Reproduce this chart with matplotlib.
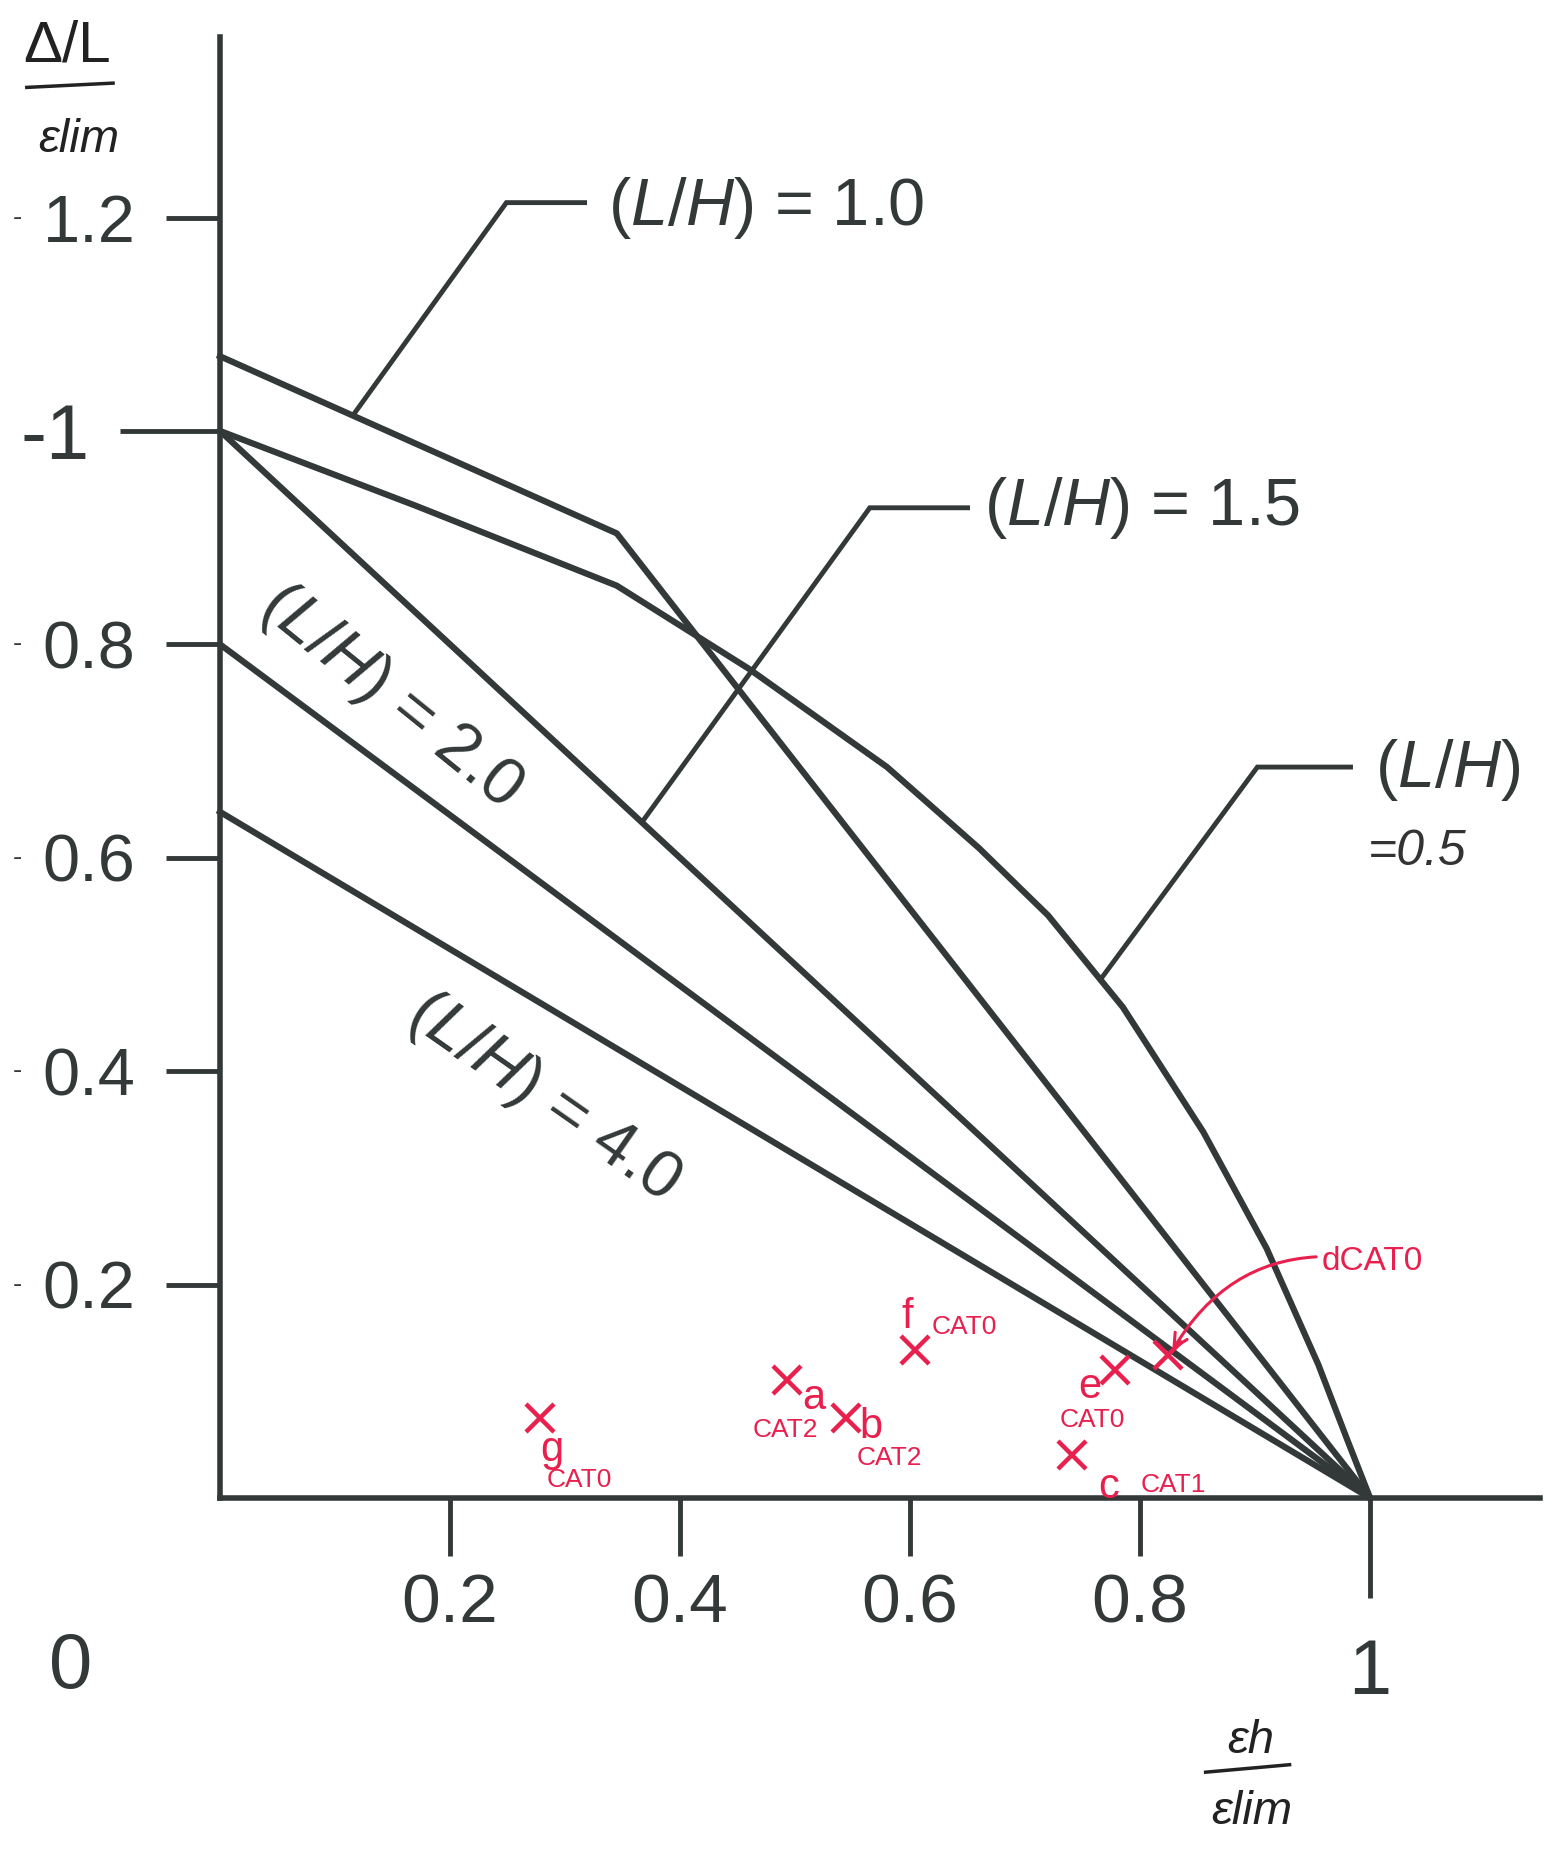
import matplotlib
matplotlib.use('Agg')
import matplotlib.pyplot as plt

plt.rcParams['font.family'] = ['Liberation Sans', 'DejaVu Sans']
plt.rcParams['mathtext.fontset'] = 'custom'
plt.rcParams['mathtext.rm'] = 'Liberation Sans'
plt.rcParams['mathtext.it'] = 'Liberation Sans:italic'

# ---- curves (x = eps_h/eps_lim, y = (Delta/L)/eps_lim) ----
x_lh05 = [0, 0.17, 0.345, 0.46, 0.58, 0.66, 0.72, 0.785, 0.855, 0.91, 0.955, 0.98, 1.0]
y_lh05 = [1.0, 0.93, 0.855, 0.777, 0.685, 0.609, 0.546, 0.46, 0.343, 0.234, 0.125, 0.055, 0.0]
x_lh10 = [0, 0.345, 1.0]
y_lh10 = [1.07, 0.904, 0.0]
x_lh15 = [0, 1.0]
y_lh15 = [1.0, 0.0]
x_lh20 = [0, 1.0]
y_lh20 = [0.8, 0.0]
x_lh40 = [0, 1.0]
y_lh40 = [0.643, 0.0]

# ---- hand-marked points ----
pt_names = ['a', 'b', 'c', 'd', 'e', 'f', 'g']
pt_x = [0.493, 0.544, 0.741, 0.824, 0.778, 0.604, 0.278]
pt_y = [0.111, 0.075, 0.040, 0.134, 0.120, 0.139, 0.075]
pt_cat = ['CAT2', 'CAT2', 'CAT1', 'CAT0', 'CAT0', 'CAT0', 'CAT0']

yticks = [0.2, 0.4, 0.6, 0.8, 1.2]
yticklabels = ['0.2', '0.4', '0.6', '0.8', '1.2']
xticks = [0.2, 0.4, 0.6, 0.8]
xticklabels = ['0.2', '0.4', '0.6', '0.8']

ink = '#333838'
red = '#e8204e'

fig = plt.figure(figsize=(15.56, 18.53), dpi=100)
ax = fig.add_axes([0.1414, 0.1916, 0.8485, 0.7883])
ax.set_xlim(0, 1.148)
ax.set_ylim(0, 1.369)

for xs, ys in [(x_lh05, y_lh05), (x_lh10, y_lh10), (x_lh15, y_lh15),
               (x_lh20, y_lh20), (x_lh40, y_lh40)]:
    ax.plot(xs, ys, color=ink, lw=4.5, solid_joinstyle='round', clip_on=False)

# spines / ticks
for s in ['top', 'right']:
    ax.spines[s].set_visible(False)
for s in ['left', 'bottom']:
    ax.spines[s].set_linewidth(4)
    ax.spines[s].set_color(ink)

ax.set_yticks(yticks)
ax.set_yticklabels(yticklabels)
ax.set_yticks([1.0], minor=True)
ax.set_yticklabels(['-1'], minor=True)
ax.set_xticks(xticks)
ax.set_xticklabels(xticklabels)
ax.set_xticks([1.0], minor=True)
ax.set_xticklabels(['1'], minor=True)

ax.tick_params(axis='y', which='major', length=39, width=3.5, color=ink,
               pad=22, labelsize=48, labelcolor=ink)
ax.tick_params(axis='y', which='minor', length=72, width=3.5, color=ink,
               pad=22, labelsize=56, labelcolor=ink)
ax.tick_params(axis='x', which='major', length=42, width=3.5, color=ink,
               pad=12, labelsize=50, labelcolor=ink)
ax.tick_params(axis='x', which='minor', length=72, width=3.5, color=ink,
               pad=28, labelsize=56, labelcolor=ink)

# little scan marks in front of y labels
for yv in yticks:
    ax.text(-0.176, yv, '-', fontsize=20, color=ink, ha='center', va='center', clip_on=False)

ax.text(-0.130, -0.159, '0', fontsize=56, color=ink, ha='center', va='center', clip_on=False)

# axis titles (handwritten in the original)
ax.text(-0.133, 1.36, 'Δ/L', fontsize=42, color='#222222', ha='center', va='center', clip_on=False)
ax.plot([-0.168, -0.093], [1.322, 1.326], color='#222222', lw=2.5, clip_on=False)
ax.text(-0.123, 1.273, 'εlim', fontsize=34, color='#222222', ha='center', va='center',
        style='italic', clip_on=False)
ax.text(0.896, -0.228, 'εh', fontsize=34, color='#222222', ha='center', va='center',
        style='italic', clip_on=False)
ax.plot([0.857, 0.93], [-0.257, -0.250], color='#222222', lw=2.5, clip_on=False)
ax.text(0.897, -0.294, 'εlim', fontsize=34, color='#222222', ha='center', va='center',
        style='italic', clip_on=False)

# curve labels with leader lines
lead = dict(color=ink, lw=3.5, solid_joinstyle='miter', clip_on=False)
ax.plot([0.1165, 0.249, 0.317], [1.016, 1.214, 1.214], **lead)
ax.text(0.337, 1.209, r'($\mathit{L/H}$) = 1.0', fontsize=48, color=ink, ha='left', va='center')
ax.plot([0.368, 0.565, 0.650], [0.635, 0.928, 0.928], **lead)
ax.text(0.664, 0.928, r'($\mathit{L/H}$) = 1.5', fontsize=48, color=ink, ha='left', va='center')
ax.plot([0.767, 0.902, 0.983], [0.488, 0.685, 0.685], **lead)
ax.text(1.004, 0.682, r'($\mathit{L/H}$)', fontsize=48, color=ink, ha='left', va='center',
        clip_on=False)
ax.text(0.998, 0.605, '=0.5', fontsize=36, color='#333333', ha='left', va='center',
        style='italic', clip_on=False)
ax.text(0.148, 0.751, r'($\mathit{L/H}$) = 2.0', fontsize=48, color=ink, ha='center',
        va='center', rotation=-39, rotation_mode='anchor')
ax.text(0.281, 0.375, r'($\mathit{L/H}$) = 4.0', fontsize=48, color=ink, ha='center',
        va='center', rotation=-35, rotation_mode='anchor')

# red hand annotations
letter_off = {'a': (27, -18), 'b': (25, -9), 'c': (36, -32), 'e': (-25, -17),
              'f': (-7, 33), 'g': (12, -32)}
cat_off = {'a': (-2, -50), 'b': (44, -40), 'c': (101, -30), 'e': (-22, -50),
           'f': (50, 23), 'g': (40, -62)}
ax.plot(pt_x, pt_y, ls='none', marker='x', ms=20, mew=3.2, color=red, zorder=5)
for name, px, py, cat in zip(pt_names, pt_x, pt_y, pt_cat):
    if name == 'd':
        ax.annotate('d' + cat, xy=(px + 0.004, py + 0.004), xytext=(0.958, 0.222),
                    fontsize=24, color=red, ha='left', va='center',
                    arrowprops=dict(arrowstyle='->', color=red, lw=2.2,
                                    connectionstyle='arc3,rad=0.35',
                                    shrinkA=2, shrinkB=0, mutation_scale=25))
        continue
    ax.annotate(name, xy=(px, py), xytext=letter_off[name], textcoords='offset pixels',
                fontsize=30, color=red, ha='center', va='center')
    ax.annotate(cat, xy=(px, py), xytext=cat_off[name], textcoords='offset pixels',
                fontsize=19, color=red, ha='center', va='center')

fig.savefig('out.png', dpi=100, facecolor='white')
